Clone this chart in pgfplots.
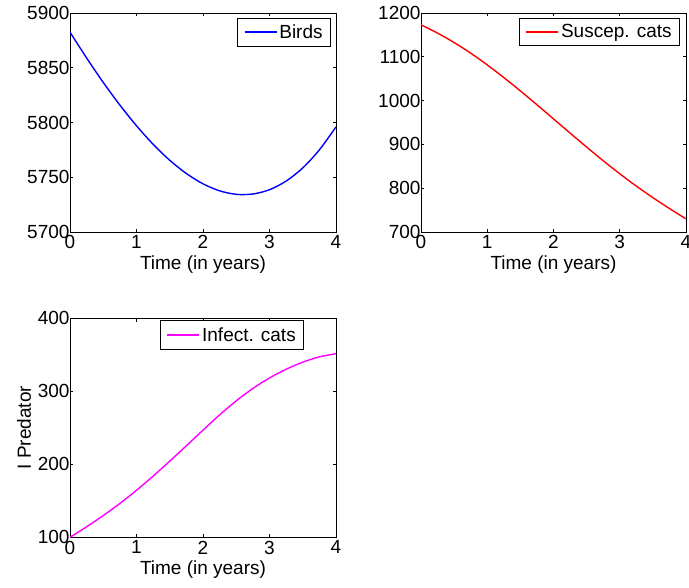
\documentclass[border=0pt]{standalone}
\usepackage{pgfplots}
\pgfplotsset{compat=1.18}
\usepackage{fontspec}
\setmainfont{Liberation Sans}

\definecolor{mblue}{RGB}{0,0,255}
\definecolor{mred}{RGB}{255,0,0}
\definecolor{mmagenta}{RGB}{255,0,255}

\newcommand{\figfont}{\fontsize{19bp}{22bp}\selectfont}

\pgfplotstableread{
t     birds
0     5882.5
0.25  5858.9
0.5   5836.6
0.75  5815.9
1     5797.0
1.25  5780.1
1.5   5765.5
1.75  5753.4
2     5744.0
2.25  5737.6
2.5   5734.4
2.75  5734.7
3     5738.6
3.25  5746.5
3.5   5758.5
3.75  5775.0
4     5796.0
}\birdsdata

\pgfplotstableread{
t     scats
0     1173.0
0.25  1154.1
0.5   1132.5
0.75  1108.3
1     1081.5
1.25  1052.6
1.5   1022.1
1.75  990.5
2     958.2
2.25  925.9
2.5   893.9
2.75  862.7
3     833.0
3.25  804.8
3.5   778.5
3.75  753.6
4     730.0
}\scatsdata

\pgfplotstableread{
t     icats
0     100.0
0.25  114.4
0.5   129.8
0.75  146.4
1     164.4
1.25  183.8
1.5   204.3
1.75  225.4
2     246.8
2.25  267.7
2.5   286.9
2.75  303.9
3     318.3
3.25  330.2
3.5   339.9
3.75  347.2
4     351.5
}\icatsdata

\pgfplotsset{
  matfig/.style={
    scale only axis,
    height=219bp,
    xmin=0, xmax=4, xtick={0,1,2,3,4},
    tick align=inside,
    major tick length=3.3bp,
    axis line style={line width=0.7bp},
    every tick/.style={black, line width=0.6bp},
    tick label style={font=\figfont},
    yticklabel style={xshift=3bp},
    label style={font=\figfont},
    /pgf/number format/assume math mode=true,
    /pgf/number format/set thousands separator={},
    xlabel={Time (in years)},
    legend cell align=left,
    legend style={anchor=north east, draw=black, line width=0.6bp,
      fill=white, inner xsep=6bp, inner ysep=4.5bp,
      nodes={inner sep=2bp, font=\figfont}},
  },
  % legend sample: a short coloured line
  keyline/.style={legend image code/.code={%
    \draw[#1, line width=1.6bp] (0bp,0bp) -- (32bp,0bp);}},
}

\begin{document}
\begin{tikzpicture}
\useasboundingbox (0,0) rectangle (689bp,588bp);

% Birds
\begin{axis}[matfig, width=266bp, at={(70bp,356bp)}, anchor=south west,
  ymin=5700, ymax=5900, ytick={5700,5750,...,5900},
  keyline=mblue,
  legend style={at={(0.981,0.979)}}]
\addplot[mblue, line width=1.4bp, smooth] table[x=t, y=birds] {\birdsdata};
\addlegendentry{Birds}
\end{axis}

% Susceptible cats
\begin{axis}[matfig, width=265bp, at={(421bp,356bp)}, anchor=south west,
  ymin=700, ymax=1200, ytick={700,800,...,1200},
  keyline=mred,
  legend style={at={(0.977,0.979)}}]
\addplot[mred, line width=1.4bp, smooth] table[x=t, y=scats] {\scatsdata};
\addlegendentry{Suscep. cats}
\end{axis}

% Infected cats
\begin{axis}[matfig, width=266bp, at={(70bp,50.7bp)}, anchor=south west,
  ymin=100, ymax=400, ytick={100,200,...,400},
  ylabel={I Predator},
  keyline=mmagenta,
  legend style={at={(0.88,0.99)}}]
\addplot[mmagenta, line width=1.4bp, smooth] table[x=t, y=icats] {\icatsdata};
\addlegendentry{Infect. cats}
\end{axis}
\end{tikzpicture}
\end{document}
